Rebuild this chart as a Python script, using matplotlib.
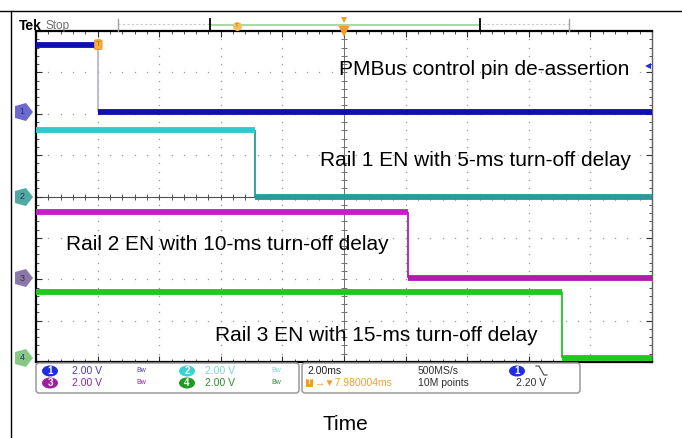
"""Recreate a Tek scope capture of PMBus-controlled rail turn-off sequencing."""

import matplotlib

matplotlib.use("Agg")
import matplotlib.pyplot as plt
import matplotlib.transforms as mtransforms
import numpy as np
from matplotlib.markers import MarkerStyle
from matplotlib.patches import Ellipse, FancyBboxPatch

# scope settings
time_per_div_ms = 2.0
trigger_delay_ms = 7.980004
volts_per_div = 2.0
n_div_x = 10
n_div_y = 8
trigger_level_v = 2.20

# channel data
channels = ["1", "2", "3", "4"]
ground_offsets_div = [2.05, 0.0, -1.97, -3.9]
high_level_v = [3.2, 3.2, 3.2, 3.2]
low_level_v = [0.0, 0.0, 0.0, 0.0]
turn_off_ms = [0.0, 5.1, 10.05, 15.05]

labels = [
    "PMBus control pin de-assertion",
    "Rail 1 EN with 5-ms turn-off delay",
    "Rail 2 EN with 10-ms turn-off delay",
    "Rail 3 EN with 15-ms turn-off delay",
]

# styles / layout
high_colors = ["#1010b0", "#30c8cc", "#c81ec8", "#1ec81e"]
low_colors = ["#1010b0", "#2a9a9a", "#b01cb0", "#1ec81e"]
edge_colors = ["#b8b8d8", "#2a9a9a", "#b01cb0", "#1ec81e"]
tag_colors = ["#6a6ad0", "#4eaaa2", "#8c78a8", "#86c886"]
badge_colors = ["#1e2ee0", "#40d0d0", "#a01ea0", "#1e9a1e"]
readout_colors = ["#4b3cb4", "#7fd4d4", "#8c2a9c", "#2e8c2e"]
label_pos = [(7.82, 3.06), (7.2, 0.88), (-1.05, -1.17), (3.79, -3.35)]

W, H = 682, 438
FONT = ["Liberation Sans", "DejaVu Sans"]
READOUT_SIZE = 7.5


def draw_scope(fig):
    left, right, top, bottom = 36, 652, 31, 362
    ax = fig.add_axes([left / W, 1 - bottom / H, (right - left) / W, (bottom - top) / H])
    t0 = trigger_delay_ms - time_per_div_ms * n_div_x / 2
    t1 = trigger_delay_ms + time_per_div_ms * n_div_x / 2
    ax.set_xlim(t0, t1)
    ax.set_ylim(-n_div_y / 2, n_div_y / 2)

    # graticule: dotted division lines plus centre cross with fine ticks
    fine_x = np.linspace(t0, t1, n_div_x * 5 + 1)
    fine_y = np.linspace(-n_div_y / 2, n_div_y / 2, n_div_y * 5 + 1)
    major_x = t0 + time_per_div_ms * np.arange(1, n_div_x)
    major_y = np.arange(-n_div_y / 2 + 1, n_div_y / 2)
    for y in major_y:
        ax.plot(fine_x, np.full_like(fine_x, y), ls="none", marker="s", ms=0.9,
                mew=0, color="#9a9a9a", zorder=1)
    for x in major_x:
        ax.plot(np.full_like(fine_y, x), fine_y, ls="none", marker="s", ms=0.9,
                mew=0, color="#9a9a9a", zorder=1)
    ax.axhline(0, color="#505050", lw=0.8, zorder=1)
    ax.axvline(trigger_delay_ms, color="#707070", lw=0.7, zorder=1)
    ax.plot(fine_x, np.zeros_like(fine_x), ls="none", marker="|", ms=4,
            mew=0.7, color="#505050", zorder=1)
    ax.plot(np.full_like(fine_y, trigger_delay_ms), fine_y, ls="none", marker="_",
            ms=4, mew=0.7, color="#707070", zorder=1)

    ax.set_xticks(t0 + time_per_div_ms * np.arange(n_div_x + 1))
    ax.set_xticks(fine_x, minor=True)
    ax.set_yticks(np.arange(-n_div_y / 2, n_div_y / 2 + 1))
    ax.set_yticks(fine_y, minor=True)
    ax.tick_params(which="both", direction="in", top=True, right=True,
                   labelbottom=False, labelleft=False, color="#303030")
    ax.tick_params(which="major", length=4, width=0.8)
    ax.tick_params(which="minor", length=2.5, width=0.6)
    for name, spine in ax.spines.items():
        spine.set_linewidth(1.6 if name != "right" else 1.0)
        spine.set_color("black" if name != "right" else "#606060")

    # waveforms
    for i, ch in enumerate(channels):
        off = ground_offsets_div[i]
        y_hi = off + high_level_v[i] / volts_per_div
        y_lo = off + low_level_v[i] / volts_per_div
        t_off = turn_off_ms[i]
        ax.hlines(y_hi, t0, t_off, color=high_colors[i], lw=4.2, zorder=3)
        ax.hlines(y_lo, t_off, t1, color=low_colors[i], lw=4.2, zorder=3)
        ax.vlines(t_off, y_lo, y_hi, color=edge_colors[i], lw=1.3, zorder=2)

    # channel ground tags on the left edge
    trans = mtransforms.blended_transform_factory(ax.transAxes, ax.transData)
    tag = MarkerStyle("p", transform=mtransforms.Affine2D().rotate_deg(-90))
    for i, ch in enumerate(channels):
        ax.plot([-0.0205], [ground_offsets_div[i]], transform=trans, marker=tag,
                ms=14, color=tag_colors[i], mew=0, clip_on=False, zorder=5)
        ax.text(-0.0225, ground_offsets_div[i], ch, transform=trans, fontsize=6.5,
                family=FONT, color="#303060", ha="center", va="center", zorder=6)

    # trigger level arrow (ch1) and trigger point marker
    ax.plot([0.9935], [ground_offsets_div[0] + trigger_level_v / volts_per_div],
            transform=trans, marker="<", ms=5, color="#1e30e0", mew=0,
            clip_on=False, zorder=5)
    ax.text(0.0, n_div_y / 2 - 0.33, "T", fontsize=6, family=FONT, color="#c07000",
            ha="center", va="center", zorder=6,
            bbox=dict(boxstyle="round,pad=0.15", fc="#f4b040", ec="#e09020", lw=0.6))
    ax.plot([trigger_delay_ms], [n_div_y / 2], marker="v", ms=8, color="#f0a020",
            mew=0, clip_on=False, zorder=6)

    # annotations
    for text, (x, y) in zip(labels, label_pos):
        ax.text(x, y, text, fontsize=15, family=FONT, color="black",
                ha="left", va="center", zorder=7)
    return ax


def draw_decorations(fig):
    deco = fig.add_axes([0, 0, 1, 1], zorder=10)
    deco.set_xlim(0, W)
    deco.set_ylim(H, 0)
    deco.axis("off")

    # page frame
    deco.plot([0, W], [11, 11], color="black", lw=1.0)
    deco.plot([11, 11], [11, H], color="black", lw=1.0)

    # header: Tek Stop and record view bar
    deco.text(19, 25.5, "Tek", fontsize=10, fontweight="bold", family=FONT,
              ha="left", va="center", color="black")
    deco.text(46, 25.5, "Stop", fontsize=8.5, family=FONT, ha="left",
              va="center", color="#707070")
    deco.plot([118, 569], [24, 24], color="#c8c8c8", lw=0.8, ls=(0, (2, 2)))
    for x in (118, 569):
        deco.plot([x, x], [19, 31], color="#a0a0a0", lw=1.0)
    deco.plot([210, 480], [25, 25], color="#a8d8a8", lw=1.4)
    for x in (210, 480):
        deco.plot([x, x], [19, 31], color="black", lw=1.3)
    deco.plot([237], [25.5], marker="o", ms=6.5, color="#f4c060", mew=0)
    deco.text(237, 25.5, "T", fontsize=4.5, family=FONT, ha="center",
              va="center", color="#b07000")
    deco.plot([344], [20], marker="v", ms=4.5, color="#f0a020", mew=0)

    # status readout boxes
    for x0, x1 in ((36, 299), (302, 580)):
        deco.add_patch(FancyBboxPatch((x0 + 3, 366), x1 - x0 - 6, 24,
                                      boxstyle="round,pad=3", fc="white",
                                      ec="#9a9a9a", lw=1.1))
    rows = [371, 383]
    slots = [(50, 72, 141), (187, 205, 276), (50, 72, 141), (187, 205, 276)]
    for i, ch in enumerate(channels):
        bx, tx, ix = slots[i]
        y = rows[i // 2]
        deco.add_patch(Ellipse((bx, y), 16, 11, fc=badge_colors[i], ec="none"))
        deco.text(bx, y + 0.3, ch, fontsize=7, family=FONT, color="white",
                  ha="center", va="center", fontweight="bold")
        deco.text(tx, y, f"{volts_per_div:.2f} V", fontsize=READOUT_SIZE,
                  family=FONT, color=readout_colors[i], ha="left", va="center")
        deco.text(ix, y, "Bw", fontsize=5, family=FONT,
                  color=readout_colors[i], ha="center", va="center")

    deco.text(307, rows[0], f"{time_per_div_ms:.2f}ms", fontsize=READOUT_SIZE,
              family=FONT, color="#202020", ha="left", va="center")
    deco.text(307, rows[1], "T", fontsize=6, family=FONT, color="white",
              ha="left", va="center",
              bbox=dict(boxstyle="square,pad=0.1", fc="#f0a020", ec="none"))
    deco.text(315, rows[1], f"\u2192\u25bc{trigger_delay_ms:.6f}ms",
              fontsize=READOUT_SIZE, family=FONT, color="#f0a030",
              ha="left", va="center")
    deco.text(418, rows[0], "500MS/s", fontsize=READOUT_SIZE, family=FONT,
              color="#303030", ha="left", va="center")
    deco.text(418, rows[1], "10M points", fontsize=READOUT_SIZE, family=FONT,
              color="#303030", ha="left", va="center")
    deco.add_patch(Ellipse((517, rows[0]), 16, 11, fc=badge_colors[0], ec="none"))
    deco.text(517, rows[0] + 0.3, channels[0], fontsize=7, family=FONT,
              color="white", ha="center", va="center", fontweight="bold")
    deco.plot([536, 539, 544, 547], [366, 366, 375, 375], color="#404040", lw=0.8)
    deco.text(546, rows[1], f"{trigger_level_v:.2f} V", fontsize=READOUT_SIZE,
              family=FONT, color="#303030", ha="right", va="center")

    deco.text(345, 425, "Time", fontsize=15, family=FONT, ha="center",
              va="center", color="black")


def main():
    fig = plt.figure(figsize=(W / 100, H / 100), dpi=100)
    fig.patch.set_facecolor("white")
    draw_scope(fig)
    draw_decorations(fig)
    fig.savefig("out.png", dpi=100)
    plt.close(fig)


if __name__ == "__main__":
    main()
